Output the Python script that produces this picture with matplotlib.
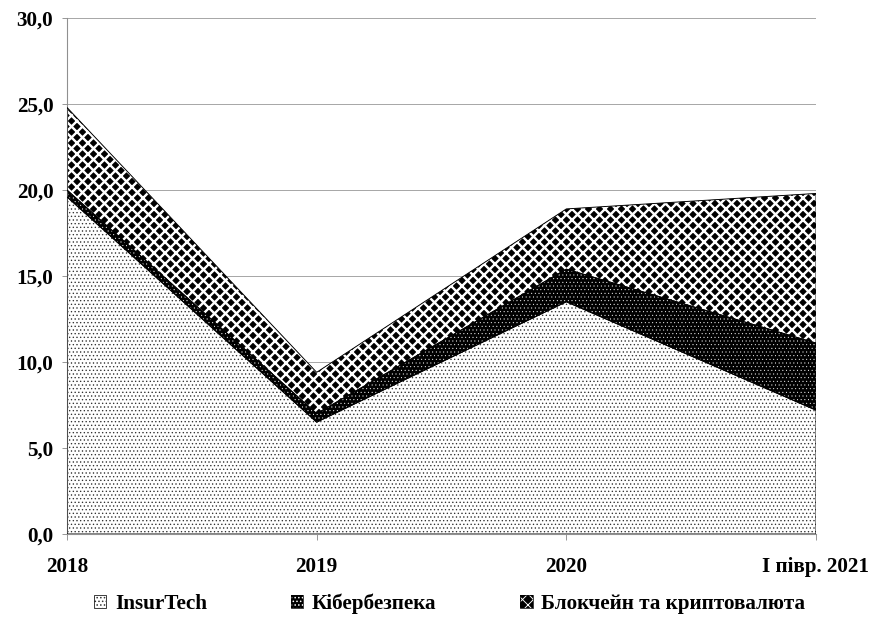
#!/usr/bin/env python3

import matplotlib.pyplot as plt
from matplotlib.patches import Patch
from matplotlib.legend_handler import HandlerTuple
import numpy as np

plt.rcParams['font.family'] = ['Liberation Serif', 'DejaVu Serif']
plt.rcParams['font.weight'] = 'bold'

years = ['2018', '2019', '2020', 'I півр. 2021']
insurtech = [19.6, 6.5, 13.5, 7.2]
kiber = [0.4, 0.5, 1.9, 3.9]
blockchain = [4.8, 2.4, 3.5, 8.7]
names = ['InsurTech', 'Кібербезпека', 'Блокчейн та криптовалюта']

# (face, hatch colour, hatch, hatch linewidth)
styles = [
    ('white', '#333333', '...', 0.8),
    ('black', 'white', '...', 0.4),
    ('black', 'white', 'xx', 2.6),
]

DPI = 66
fig = plt.figure(figsize=(880 / DPI, 619 / DPI), dpi=DPI)
ax = fig.add_axes([67 / 880, 85 / 619, 749 / 880, 516 / 619])

x = np.arange(len(years))
layers = [np.array(insurtech), np.array(kiber), np.array(blockchain)]
bottom = np.zeros(len(years))
handles = []
for vals, (fc, hc, hatch, hlw), name in zip(layers, styles, names):
    top = bottom + vals
    with plt.rc_context({'hatch.linewidth': hlw}):
        coll = ax.fill_between(x, bottom, top, facecolor=fc, edgecolor=hc,
                               hatch=hatch, linewidth=0, zorder=2)
        if hasattr(coll, 'set_hatch_linewidth'):
            coll.set_hatch_linewidth(hlw)
        hp = Patch(facecolor=fc, edgecolor=hc, hatch=hatch, linewidth=0)
        if hasattr(hp, 'set_hatch_linewidth'):
            hp.set_hatch_linewidth(hlw)
    ax.fill_between(x, bottom, top, facecolor='none', edgecolor='black',
                    linewidth=1.0, zorder=3)
    handles.append((hp, Patch(facecolor='none', edgecolor='black', linewidth=0.8)))
    bottom = top

ax.set_xlim(0, len(years) - 1)
ax.set_ylim(0, 30)
ax.set_yticks(np.arange(0, 31, 5))
ax.set_yticklabels([f'{v:.1f}'.replace('.', ',') for v in np.arange(0, 31, 5)])
ax.set_xticks(x)
ax.set_xticklabels(years)
ax.yaxis.grid(True, color='#a0a0a0', linewidth=1.0, zorder=0)
ax.set_axisbelow(True)
for s in ['top', 'right']:
    ax.spines[s].set_visible(False)
for s in ['left', 'bottom']:
    ax.spines[s].set_color('#909090')
    ax.spines[s].set_linewidth(1.2)
ax.tick_params(axis='both', colors='#909090', labelcolor='black',
               labelsize=23, length=6, width=1.0)
ax.tick_params(axis='x', pad=19)
ax.tick_params(axis='y', pad=9)

fig.legend(handles, names, handler_map={tuple: HandlerTuple(ndivide=1, pad=0)},
           loc='center', bbox_to_anchor=(0.511, 0.024), ncol=3, frameon=False,
           fontsize=23, handlelength=0.57, handleheight=0.57, handletextpad=0.4,
           columnspacing=4.0)

fig.savefig('out.png', dpi=DPI)
